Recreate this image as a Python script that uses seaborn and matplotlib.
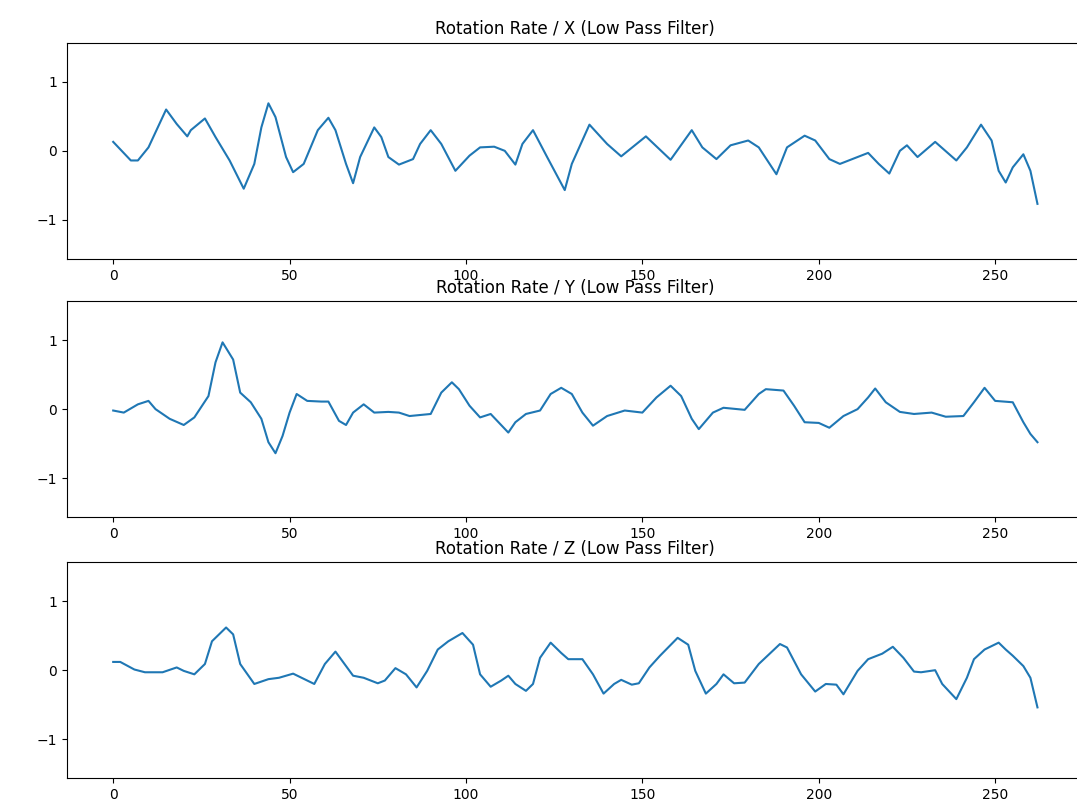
import matplotlib
matplotlib.use("Agg")
import matplotlib.pyplot as plt
import seaborn as sns
import pandas as pd

# sample index / filtered rotation rate
x_idx = [0, 5, 7, 10, 15, 18, 21, 22, 26, 29, 33, 37, 40, 42, 44, 46, 49, 51, 54, 58,
         61, 63, 66, 68, 70, 74, 76, 78, 81, 85, 87, 90, 93, 97, 101, 104, 108, 111, 114,
         116, 119, 123, 128, 130, 135, 140, 144, 151, 158, 164, 167, 171, 175, 180, 183,
         188, 191, 196, 199, 203, 206, 211, 214, 217, 220, 223, 225, 228, 233, 239, 242,
         246, 249, 251, 253, 255, 258, 260, 262]
rot_x = [0.13, -0.14, -0.14, 0.05, 0.60, 0.39, 0.21, 0.30, 0.47, 0.20, -0.14, -0.55,
         -0.19, 0.34, 0.69, 0.49, -0.09, -0.31, -0.19, 0.30, 0.48, 0.30, -0.19, -0.47,
         -0.09, 0.34, 0.20, -0.09, -0.20, -0.12, 0.10, 0.30, 0.10, -0.29, -0.07, 0.05,
         0.06, 0.00, -0.20, 0.10, 0.30, -0.09, -0.57, -0.19, 0.38, 0.10, -0.08, 0.21,
         -0.13, 0.30, 0.05, -0.12, 0.08, 0.15, 0.05, -0.34, 0.05, 0.22, 0.15, -0.12,
         -0.19, -0.09, -0.03, -0.19, -0.33, 0.00, 0.08, -0.09, 0.13, -0.14, 0.05, 0.38,
         0.15, -0.29, -0.46, -0.24, -0.05, -0.29, -0.77]

y_idx = [0, 3, 7, 10, 12, 16, 20, 23, 27, 29, 31, 34, 36, 39, 42, 44, 46, 48, 50, 52,
         55, 59, 61, 64, 66, 68, 71, 74, 78, 81, 84, 90, 93, 96, 98, 101, 104, 107, 112,
         114, 117, 121, 124, 127, 130, 133, 136, 140, 145, 150, 154, 158, 161, 164, 166,
         170, 173, 179, 183, 185, 190, 193, 196, 200, 203, 207, 211, 214, 216, 219, 223,
         227, 232, 236, 241, 244, 247, 250, 255, 258, 260, 262]
rot_y = [-0.02, -0.05, 0.07, 0.12, 0.00, -0.14, -0.23, -0.12, 0.19, 0.68, 0.97, 0.72,
         0.24, 0.10, -0.14, -0.48, -0.64, -0.39, -0.05, 0.22, 0.12, 0.11, 0.11, -0.17,
         -0.23, -0.05, 0.07, -0.05, -0.04, -0.05, -0.10, -0.07, 0.24, 0.39, 0.29, 0.05,
         -0.12, -0.07, -0.34, -0.19, -0.07, -0.02, 0.22, 0.31, 0.22, -0.05, -0.24, -0.10,
         -0.02, -0.05, 0.17, 0.34, 0.19, -0.14, -0.29, -0.05, 0.02, -0.01, 0.22, 0.29,
         0.27, 0.05, -0.19, -0.20, -0.27, -0.10, 0.00, 0.17, 0.30, 0.10, -0.04, -0.07,
         -0.05, -0.11, -0.10, 0.10, 0.31, 0.12, 0.10, -0.19, -0.36, -0.48]

z_idx = [0, 2, 6, 9, 14, 18, 20, 23, 26, 28, 32, 34, 36, 40, 44, 47, 51, 57, 60, 63,
         65, 68, 71, 75, 77, 80, 83, 86, 89, 92, 95, 99, 102, 104, 107, 110, 112, 114,
         117, 119, 121, 124, 127, 129, 133, 136, 139, 142, 144, 147, 149, 152, 155, 160,
         163, 165, 168, 171, 173, 176, 179, 183, 189, 191, 195, 199, 202, 205, 207, 211,
         214, 218, 221, 224, 227, 229, 233, 235, 239, 242, 244, 247, 251, 253, 255, 258,
         260, 262]
rot_z = [0.12, 0.12, 0.01, -0.03, -0.03, 0.04, -0.01, -0.06, 0.09, 0.42, 0.62, 0.52,
         0.09, -0.20, -0.13, -0.11, -0.05, -0.20, 0.09, 0.27, 0.13, -0.08, -0.11, -0.19,
         -0.15, 0.03, -0.06, -0.25, -0.01, 0.30, 0.42, 0.54, 0.37, -0.06, -0.24, -0.15,
         -0.08, -0.20, -0.30, -0.20, 0.18, 0.40, 0.25, 0.16, 0.16, -0.06, -0.34, -0.20,
         -0.14, -0.21, -0.19, 0.04, 0.21, 0.47, 0.37, -0.01, -0.34, -0.20, -0.06, -0.19,
         -0.18, 0.09, 0.38, 0.33, -0.06, -0.31, -0.20, -0.21, -0.35, -0.01, 0.16, 0.24,
         0.34, 0.18, -0.02, -0.03, 0.00, -0.20, -0.42, -0.11, 0.16, 0.30, 0.40, 0.30,
         0.21, 0.06, -0.11, -0.54]

series = [
    ("X", x_idx, rot_x),
    ("Y", y_idx, rot_y),
    ("Z", z_idx, rot_z),
]

fig = plt.figure(figsize=(10.77, 8.01), dpi=100)
bottoms = [0.6767, 0.3542, 0.0283]

for (axis_name, idx, vals), b in zip(series, bottoms):
    ax = fig.add_axes([0.0622, b, 0.944, 0.27])
    df = pd.DataFrame({"t": idx, "rate": vals})
    sns.lineplot(data=df, x="t", y="rate", ax=ax, color="#1f77b4", linewidth=1.5)
    ax.set_title("Rotation Rate / %s (Low Pass Filter)" % axis_name)
    ax.set_xlim(-13.1, 275.1)
    ax.set_ylim(-1.57, 1.57)
    ax.set_yticks([-1, 0, 1])
    ax.set_xticks([0, 50, 100, 150, 200, 250])
    ax.set_xlabel("")
    ax.set_ylabel("")

fig.savefig("out.png", dpi=100)
